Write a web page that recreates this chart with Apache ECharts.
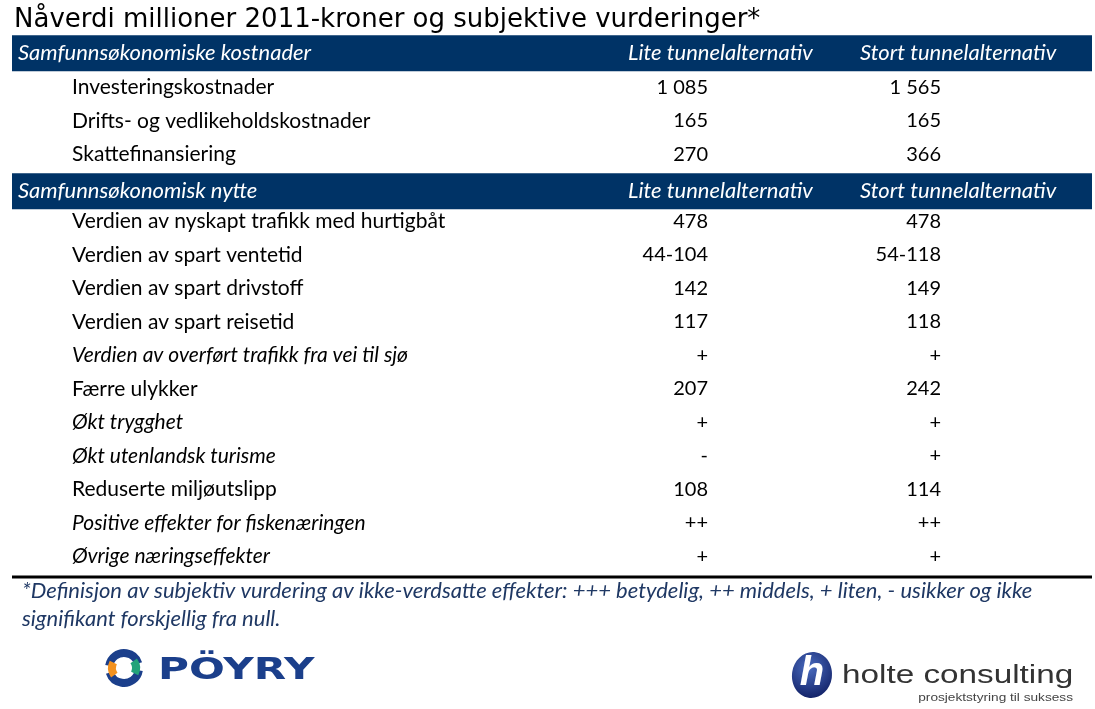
<!DOCTYPE html>
<html><head><meta charset="utf-8">
<script src="https://cdn.jsdelivr.net/npm/echarts@6/dist/echarts.min.js"></script>
<style>html,body{margin:0;padding:0;background:#fff}#c{width:1095px;height:709px}</style>
</head><body><div id="c"></div>
<script>
const titleText = 'Nåverdi millioner 2011-kroner og subjektive vurderinger*';
const colHeaders = ['Lite tunnelalternativ', 'Stort tunnelalternativ'];
const costHeader = 'Samfunnsøkonomiske kostnader';
const costRows = ['Investeringskostnader', 'Drifts- og vedlikeholdskostnader', 'Skattefinansiering'];
const costLite = ['1 085', '165', '270'];
const costStort = ['1 565', '165', '366'];
const benefitHeader = 'Samfunnsøkonomisk nytte';
const benefitRows = ['Verdien av nyskapt trafikk med hurtigbåt', 'Verdien av spart ventetid', 'Verdien av spart drivstoff',
  'Verdien av spart reisetid', 'Verdien av overført trafikk fra vei til sjø', 'Færre ulykker', 'Økt trygghet',
  'Økt utenlandsk turisme', 'Reduserte miljøutslipp', 'Positive effekter for fiskenæringen', 'Øvrige næringseffekter'];
const benefitLite = ['478', '44-104', '142', '117', '+', '207', '+', '-', '108', '++', '+'];
const benefitStort = ['478', '54-118', '149', '118', '+', '242', '+', '+', '114', '++', '+'];
const benefitSubjective = [false, false, false, false, true, false, true, true, false, true, true];
const footnote = '*Definisjon av subjektiv vurdering av ikke-verdsatte effekter: +++ betydelig, ++ middels, + liten, - usikker og ikke\nsignifikant forskjellig fra null.';

// build table rows
const rows = [];
rows.push({kind: 'header', label: costHeader, a: colHeaders[0], b: colHeaders[1]});
costRows.forEach((r, i) => rows.push({kind: 'row', label: r, a: costLite[i], b: costStort[i], it: false}));
rows.push({kind: 'header', label: benefitHeader, a: colHeaders[0], b: colHeaders[1]});
benefitRows.forEach((r, i) => rows.push({kind: 'row', label: r, a: benefitLite[i], b: benefitStort[i], it: benefitSubjective[i]}));

const L = {barLeft: 12, barRight: 1092, barH: 36, hdrLabelX: 18, hdrAX: 628, hdrBX: 860, labelX: 72, aRight: 708, bRight: 941};
const NAVY = '#003366';
const FONT = 'Lato';

const chart = echarts.init(document.getElementById('c'), null, {renderer: 'canvas'});
chart.setOption({
  animation: false,
  title: [
    {text: titleText, left: 9, top: 2, textStyle: {fontFamily: 'DejaVu Sans', fontSize: 26, fontWeight: 'normal', color: '#000'}},
    {text: footnote, left: 17, top: 572, textStyle: {fontFamily: FONT, fontStyle: 'italic', fontSize: 22, fontWeight: 'normal', color: '#1F3864', lineHeight: 28}}
  ],
  grid: {left: 0, right: 0, top: 37, bottom: 136},
  xAxis: {type: 'value', min: 0, max: 1095, show: false},
  yAxis: {type: 'category', inverse: true, show: false, data: rows.map((r, i) => String(i))},
  series: [{
    type: 'custom',
    encode: {x: 0, y: 1},
    data: rows.map((r, i) => [0, i]),
    renderItem: function (params, api) {
      const r = rows[api.value(1)];
      const y = api.coord([0, api.value(1)])[1];
      const x = (v) => api.coord([v, 0])[0];
      if (r.kind === 'header') {
        const yc = api.value(1) === 0 ? y - 0.5 : y + 3.5;
        const ts = {fill: '#fff', fontFamily: FONT, fontStyle: 'italic', fontSize: 22, verticalAlign: 'middle'};
        return {type: 'group', children: [
          {type: 'rect', shape: {x: x(L.barLeft), y: yc - L.barH / 2, width: x(L.barRight) - x(L.barLeft), height: L.barH}, style: {fill: NAVY}},
          {type: 'text', style: Object.assign({text: r.label, x: x(L.hdrLabelX), y: yc, align: 'left'}, ts)},
          {type: 'text', style: Object.assign({text: r.a, x: x(L.hdrAX), y: yc, align: 'left'}, ts)},
          {type: 'text', style: Object.assign({text: r.b, x: x(L.hdrBX), y: yc, align: 'left'}, ts)}
        ]};
      }
      const base = {fill: '#000', fontFamily: FONT, verticalAlign: 'middle'};
      return {type: 'group', children: [
        {type: 'text', style: Object.assign({text: r.label, x: x(L.labelX), y: y, align: 'left', fontSize: 21, fontStyle: r.it ? 'italic' : 'normal'}, base)},
        {type: 'text', style: Object.assign({text: r.a, x: x(L.aRight), y: y, align: 'right', fontSize: 20}, base)},
        {type: 'text', style: Object.assign({text: r.b, x: x(L.bRight), y: y, align: 'right', fontSize: 20}, base)}
      ]};
    }
  }],
  graphic: [
    {type: 'line', shape: {x1: 12, y1: 577, x2: 1092, y2: 577}, style: {stroke: '#000', lineWidth: 3}},
    // Pöyry logo
    {type: 'arc', shape: {cx: 124, cy: 668, r: 15, startAngle: Math.PI * 1.05, endAngle: Math.PI * 1.9}, style: {stroke: '#1B3F8B', lineWidth: 8, fill: null}},
    {type: 'arc', shape: {cx: 124, cy: 668, r: 15, startAngle: Math.PI * 0.05, endAngle: Math.PI * 0.9}, style: {stroke: '#1B3F8B', lineWidth: 8, fill: null}},
    {type: 'arc', shape: {cx: 124, cy: 668, r: 12, startAngle: Math.PI * 0.8, endAngle: Math.PI * 1.15}, style: {stroke: '#F39220', lineWidth: 8, fill: null}},
    {type: 'arc', shape: {cx: 124, cy: 668, r: 12, startAngle: Math.PI * 1.8, endAngle: Math.PI * 2.15}, style: {stroke: '#22A37A', lineWidth: 8, fill: null}},
    {type: 'text', x: 158, y: 671, scaleX: 1.36, style: {text: 'PÖYRY', x: 0, y: 0, verticalAlign: 'middle', fontFamily: 'DejaVu Sans', fontWeight: 'bold', fontSize: 31, fill: '#1B3F8B'}},
    // holte logo
    {type: 'ellipse', shape: {cx: 812, cy: 675, rx: 20, ry: 23}, rotation: -0.15, originX: 812, originY: 675, style: {fill: new echarts.graphic.RadialGradient(0.4, 0.35, 0.75, [{offset: 0, color: '#4A6CC0'}, {offset: 1, color: '#14246A'}])}},
    {type: 'text', style: {text: 'h', x: 812, y: 674, align: 'center', verticalAlign: 'middle', fontFamily: 'Liberation Sans', fontWeight: 'bold', fontStyle: 'italic', fontSize: 40, fill: '#fff'}},
    {type: 'text', x: 842, y: 676, scaleX: 1.28, style: {text: 'holte consulting', x: 0, y: 0, verticalAlign: 'middle', fontFamily: 'Liberation Sans', fontSize: 26, fill: '#333'}},
    {type: 'text', x: 1073, y: 698, scaleX: 1.3, style: {text: 'prosjektstyring til suksess', x: 0, y: 0, align: 'right', verticalAlign: 'middle', fontFamily: 'Liberation Sans', fontSize: 10.5, fill: '#444'}}
  ]
});
</script></body></html>
